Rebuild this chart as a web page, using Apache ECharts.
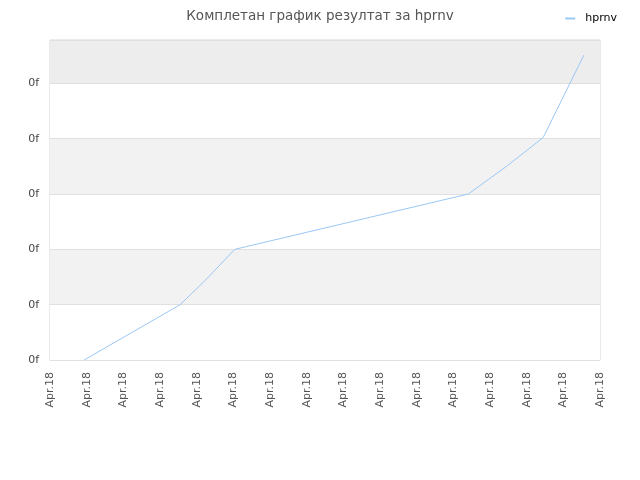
<!DOCTYPE html>
<html>
<head>
<meta charset="utf-8">
<script src="https://cdn.jsdelivr.net/npm/echarts@6/dist/echarts.min.js"></script>
<style>html,body{margin:0;padding:0;background:#fff}#c{width:640px;height:480px}</style>
</head>
<body>
<div id="c"></div>
<script>
const titleText = 'Комплетан график резултат за hprnv';
const seriesName = 'hprnv';
const xTickLabel = 'Apr.18';
const yTickLabel = '0f';
const xValues = [0.93, 3.55, 4.25, 5.04, 11.41, 12.45, 13.45, 14.56];
const yValues = [0.0, 1.0, 1.45, 2.0, 3.0, 3.5, 4.02, 5.51];

const chart = echarts.init(document.getElementById('c'));
chart.setOption({
  animation: false,
  backgroundColor: '#fff',
  title: {
    text: titleText, left: 'center', top: 4,
    textStyle: { fontSize: 13.5, fontWeight: 'normal', color: '#555', fontFamily: 'DejaVu Sans' }
  },
  legend: {
    right: 18, top: 8, icon: 'rect', itemWidth: 10, itemHeight: 2, itemGap: 10,
    textStyle: { fontSize: 11, color: '#000', fontFamily: 'DejaVu Sans', padding: [0, 0, 0, 5] },
    data: [seriesName]
  },
  grid: { left: 50, right: 40, top: 40, bottom: 120, show: true, borderColor: '#d6d6d6', borderWidth: 1, backgroundColor: 'transparent' },
  xAxis: {
    type: 'value', min: 0, max: 15, interval: 1,
    axisLine: { show: false }, axisTick: { show: false }, splitLine: { show: false },
    axisLabel: { rotate: 90, fontSize: 11, color: '#555', margin: 12, fontFamily: 'DejaVu Sans', formatter: () => xTickLabel }
  },
  yAxis: {
    type: 'value', min: 0, max: 5.783, interval: 1,
    axisLine: { show: false }, axisTick: { show: false },
    splitLine: { show: true, lineStyle: { color: '#e0e0e0', width: 1 } },
    splitArea: { show: true, areaStyle: { color: ['#ffffff', '#f2f2f2', '#ffffff', '#f2f2f2', '#ffffff', '#ededed'] } },
    axisLabel: { fontSize: 11, color: '#444', margin: 11, fontFamily: 'DejaVu Sans', showMaxLabel: false,
      formatter: v => (v > 5.5 ? '' : yTickLabel) }
  },
  series: [{
    name: seriesName, type: 'line', symbol: 'none',
    lineStyle: { color: '#9ac8f5', width: 1 }, itemStyle: { color: '#9ac8f5' },
    data: xValues.map((x, i) => [x, yValues[i]])
  }]
});
</script>
</body>
</html>
